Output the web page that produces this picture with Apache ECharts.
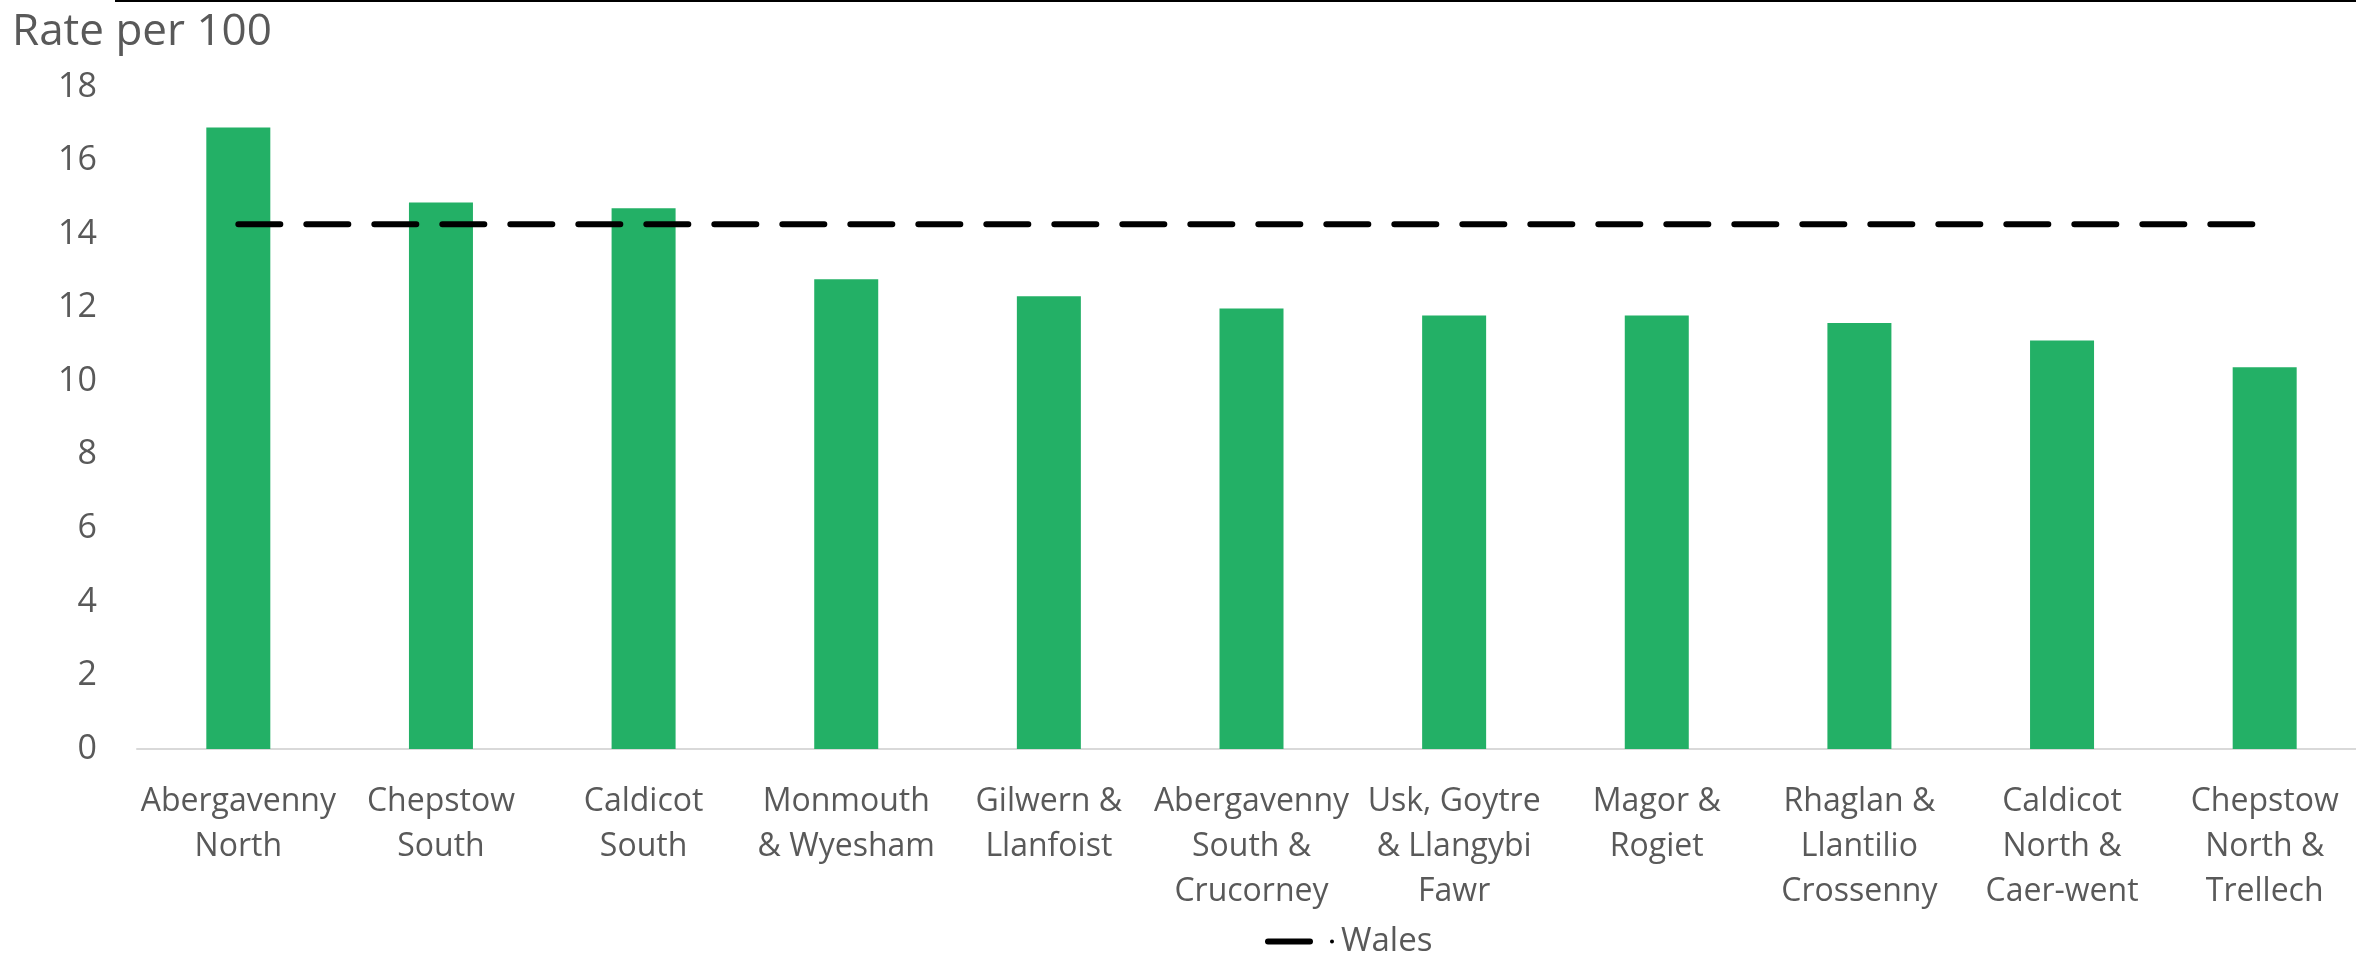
<!DOCTYPE html>
<html>
<head>
<meta charset="utf-8">
<script src="https://cdn.jsdelivr.net/npm/echarts@6/dist/echarts.min.js"></script>
<style>
html,body{margin:0;padding:0;background:#fff;overflow:hidden;width:2356px;height:958px;}
#chart{width:2372px;height:958px;}
</style>
</head>
<body>
<div id="chart"></div>
<script>
const categories = [
  "Abergavenny\nNorth",
  "Chepstow\nSouth",
  "Caldicot\nSouth",
  "Monmouth\n& Wyesham",
  "Gilwern &\nLlanfoist",
  "Abergavenny\nSouth &\nCrucorney",
  "Usk, Goytre\n& Llangybi\nFawr",
  "Magor &\nRogiet",
  "Rhaglan &\nLlantilio\nCrossenny",
  "Caldicot\nNorth &\nCaer-went",
  "Chepstow\nNorth &\nTrellech"
];
const rateValues = [16.9, 14.86, 14.7, 12.77, 12.31, 11.98, 11.79, 11.79, 11.58, 11.11, 10.38];
const walesValues = [14.27, 14.27, 14.27, 14.27, 14.27, 14.27, 14.27, 14.27, 14.27, 14.27, 14.27];
const yTicks = { min: 0, max: 18, interval: 2 };
const yAxisTitle = "Rate per 100";

const FONT = "'Open Sans', 'Noto Sans', sans-serif";
const GREY = "#595959";
const legendIcon = 'path://M3,0 L45,0 A3,3 0 0 1 45,6 L3,6 A3,3 0 0 1 3,0 Z M67,1 A2,2 0 1 1 67,5 A2,2 0 1 1 67,1 Z';

const chart = echarts.init(document.getElementById('chart'), null, {renderer: 'canvas'});
chart.setOption({
  animation: false,
  backgroundColor: '#ffffff',
  title: {
    text: yAxisTitle,
    left: 12, top: 4, padding: 0,
    textStyle: {fontFamily: FONT, fontSize: 44, fontWeight: 'normal', color: GREY, lineHeight: 56}
  },
  graphic: [{
    type: 'rect', left: 115, top: 0,
    shape: {width: 2257, height: 2},
    style: {fill: '#000000'}
  }],
  legend: {
    data: [{name: 'Wales', icon: legendIcon}],
    left: 1260, top: 920,
    itemWidth: 69, itemHeight: 6, itemGap: 10,
    itemStyle: {color: '#000000'},
    textStyle: {fontFamily: FONT, fontSize: 33, color: GREY, padding: [0, 0, 0, 2]}
  },
  grid: {left: 137, right: 6, top: 87, bottom: 209, containLabel: false},
  xAxis: {
    type: 'category',
    data: categories,
    boundaryGap: true,
    axisLine: {show: true, lineStyle: {color: '#d9d9d9', width: 2}},
    axisTick: {show: false},
    axisLabel: {
      interval: 0, margin: 30,
      fontFamily: FONT, fontSize: 32, color: GREY, lineHeight: 45, align: 'center'
    },
    splitLine: {show: false}
  },
  yAxis: {
    type: 'value',
    min: yTicks.min, max: yTicks.max, interval: yTicks.interval,
    axisLine: {show: false},
    axisTick: {show: false},
    splitLine: {show: false},
    axisLabel: {margin: 40, fontFamily: FONT, fontSize: 34, color: GREY}
  },
  series: [
    {
      name: 'Rate',
      type: 'bar',
      data: rateValues,
      barWidth: 64,
      itemStyle: {color: '#23b066'},
      z: 2
    },
    {
      name: 'Wales',
      type: 'line',
      data: walesValues,
      symbol: 'none',
      lineStyle: {color: '#000000', width: 6, type: [42, 26], cap: 'round'},
      itemStyle: {color: '#000000'},
      z: 3
    }
  ]
});
</script>
</body>
</html>
